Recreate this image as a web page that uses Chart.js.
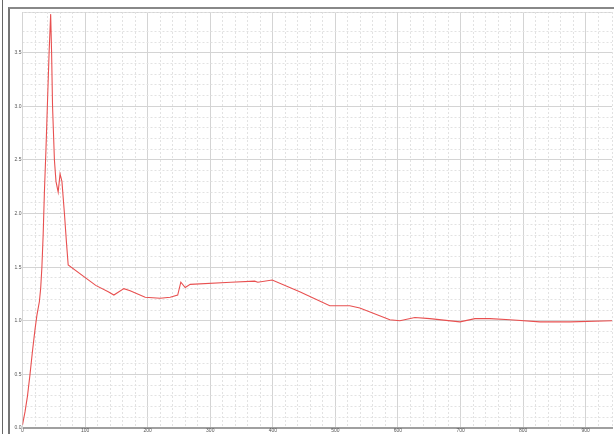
<!DOCTYPE html>
<html>
<head>
<meta charset="utf-8">
<script src="https://cdn.jsdelivr.net/npm/chart.js@4.4.0/dist/chart.umd.min.js"></script>
<style>
    html, body { margin: 0; padding: 0; background: #fff; overflow: hidden; }
    #wrap { position: relative; width: 614px; height: 434px; }
    #sideLine { position: absolute; left: 2px; top: 0; width: 1px; height: 434px; background: #666; }
    #frame { position: absolute; left: 8px; top: 7px; width: 620px; height: 440px;
             border-left: 2px solid #777; border-top: 2px solid #888; }
    #curveChart { position: absolute; left: 0; top: 0; }
</style>
</head>
<body>
<div id="wrap">
    <div id="sideLine"></div>
    <div id="frame"></div>
    <canvas id="curveChart" width="614" height="434"></canvas>
</div>
<script>
// 측정 곡선 데이터
const xValues = [0, 4, 8, 12, 16, 20, 23, 27, 29, 31, 33, 35, 37.5, 40, 42.5, 45, 46.5, 48, 51, 53.5, 57, 60, 63, 67, 70, 73,
    117, 137, 146, 162, 172, 196, 220, 236, 248, 253, 260, 268, 333, 371, 376, 399,
    443, 491, 523, 539, 587, 603, 627, 651, 699, 723, 747, 779, 827, 875, 942];
const yValues = [0.03, 0.15, 0.3, 0.5, 0.72, 0.92, 1.05, 1.18, 1.3, 1.5, 1.8, 2.2, 2.6, 3.05, 3.5, 3.86, 3.5, 3.0, 2.5, 2.3, 2.2, 2.37, 2.3, 2.0, 1.75, 1.52,
    1.33, 1.27, 1.24, 1.3, 1.28, 1.22, 1.21, 1.22, 1.24, 1.36, 1.31, 1.34, 1.36, 1.37, 1.36, 1.38,
    1.27, 1.14, 1.14, 1.12, 1.01, 1.0, 1.03, 1.02, 0.99, 1.02, 1.02, 1.01, 0.99, 0.99, 1.0];

// 축 눈금 라벨
const xTickLabels = ['0', '100', '200', '300', '400', '500', '600', '700', '800', '900'];
const yTickLabels = ['0.0', '0.5', '1.0', '1.5', '2.0', '2.5', '3.0', '3.5'];

const X_MAX = 942;
const Y_MAX = 3.88;

const points = xValues.map((x, i) => ({ x: x, y: yValues[i] }));

const isStep = (v, step) => Math.abs(v / step - Math.round(v / step)) < 1e-6;

const ctx = document.getElementById('curveChart').getContext('2d');
const chart = new Chart(ctx, {
    type: 'scatter',
    data: {
        datasets: [{
            data: points,
            showLine: true,
            borderColor: 'rgb(232, 80, 80)',
            borderWidth: 1.1,
            pointRadius: 0,
            tension: 0
        }]
    },
    options: {
        responsive: false,
        animation: false,
        layout: { padding: { left: 9, top: 12, right: 2, bottom: 0 } },
        plugins: { legend: { display: false }, tooltip: { enabled: false } },
        scales: {
            x: {
                type: 'linear', position: 'bottom', min: 0, max: X_MAX,
                ticks: {
                    stepSize: 100, autoSkip: false, maxRotation: 0, padding: 0,
                    font: { size: 5 }, color: '#555',
                    callback: v => isStep(v, 100) ? (xTickLabels[Math.round(v / 100)] || '') : ''
                },
                grid: {
                    drawTicks: false,
                    color: c => (c.tick && isStep(c.tick.value, 100)) ? '#d4d4d4' : 'rgba(0,0,0,0)'
                },
                border: { color: '#a0a0a0', width: 2 },
                afterFit: s => { s.height = 6; }
            },
            x2: {
                type: 'linear', position: 'top', min: 0, max: X_MAX,
                ticks: { stepSize: 20, display: false },
                grid: {
                    drawTicks: false,
                    color: c => (c.tick && isStep(c.tick.value, 100)) ? 'rgba(0,0,0,0)' : '#e2e2e2'
                },
                border: { display: false, dash: [2, 2] },
                afterFit: s => { s.height = 0; }
            },
            y: {
                type: 'linear', position: 'left', min: 0, max: Y_MAX,
                ticks: {
                    stepSize: 0.5, padding: 1, font: { size: 5 }, color: '#555',
                    callback: v => isStep(v, 0.5) ? (yTickLabels[Math.round(v / 0.5)] || '') : ''
                },
                grid: { drawTicks: false, color: '#d4d4d4' },
                border: { color: '#d4d4d4', width: 1 },
                afterFit: s => { s.width = 13.5; }
            },
            y2: {
                type: 'linear', position: 'right', min: 0, max: Y_MAX,
                ticks: { stepSize: 0.1, display: false },
                grid: {
                    drawTicks: false,
                    color: c => (c.tick && isStep(c.tick.value, 0.5)) ? 'rgba(0,0,0,0)' : '#e2e2e2'
                },
                border: { display: false, dash: [2, 2] },
                afterFit: s => { s.width = 0; }
            }
        }
    }
});
</script>
</body>
</html>
